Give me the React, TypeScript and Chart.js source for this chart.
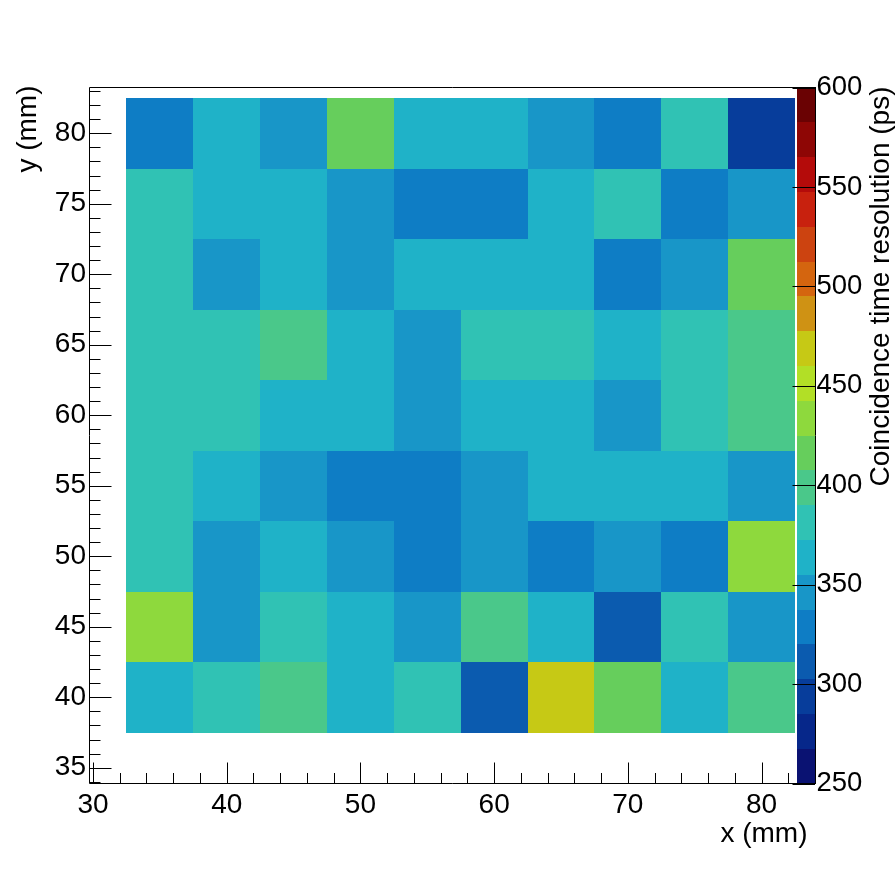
import React, { useEffect, useRef } from "react";
import { Chart, registerables } from "chart.js";

Chart.register(...registerables);

// ---- data ----
const xBinCenters = [35, 40, 45, 50, 55, 60, 65, 70, 75, 80];
const yBinCenters = [40, 45, 50, 55, 60, 65, 70, 75, 80];
const binHalfWidth = 2.5;

// coincidence time resolution (ps), one array per row (y = 40 ... 80 mm)
const resY40 = [364, 381, 399, 364, 381, 311, 469, 416, 364, 399];
const resY45 = [434, 346, 381, 364, 346, 399, 364, 311, 381, 346];
const resY50 = [381, 346, 364, 346, 329, 346, 329, 346, 329, 434];
const resY55 = [381, 364, 346, 329, 329, 346, 364, 364, 364, 346];
const resY60 = [381, 381, 364, 364, 346, 364, 364, 346, 381, 399];
const resY65 = [381, 381, 399, 364, 346, 381, 381, 364, 381, 399];
const resY70 = [381, 346, 364, 346, 364, 364, 364, 329, 346, 416];
const resY75 = [381, 364, 364, 346, 329, 329, 364, 381, 329, 346];
const resY80 = [329, 364, 346, 416, 364, 364, 346, 329, 381, 294];

const xTicks = [30, 40, 50, 60, 70, 80];
const yTicks = [35, 40, 45, 50, 55, 60, 65, 70, 75, 80];
const zTicks = [250, 300, 350, 400, 450, 500, 550, 600];

const xMinorTicks = [30, 32, 34, 36, 38, 40, 42, 44, 46, 48, 50, 52, 54, 56, 58, 60, 62, 64, 66, 68, 70, 72, 74, 76, 78, 80, 82];
const yMinorTicks = [34, 35, 36, 37, 38, 39, 40, 41, 42, 43, 44, 45, 46, 47, 48, 49, 50, 51, 52, 53, 54, 55, 56, 57, 58, 59, 60, 61, 62, 63, 64, 65, 66, 67, 68, 69, 70, 71, 72, 73, 74, 75, 76, 77, 78, 79, 80, 81, 82, 83];

const xRange = [29.738, 82.65];
const yRange = [33.883, 83.245];
const zRange = [250, 600];

const paletteColors = [
  "#0a1272", "#06278a", "#073d9b", "#0b5baf", "#0e7dc5",
  "#1896c8", "#1fb2c8", "#30c2b4", "#4ac88a", "#66ce5c",
  "#8ed93d", "#b2df26", "#c6c915", "#cf9214", "#d4650f",
  "#cc4310", "#c8210e", "#b40b0a", "#8e0605", "#6a0203",
];

const xTitle = "x (mm)";
const yTitle = "y (mm)";
const zTitle = "Coincidence time resolution (ps)";

const FONT = '"Liberation Sans", Arial, Helvetica, sans-serif';

const rows = [resY40, resY45, resY50, resY55, resY60, resY65, resY70, resY75, resY80];
const cells = rows.flatMap((row, j) =>
  row.map((v, i) => ({ x: xBinCenters[i], y: yBinCenters[j], v }))
);

function colorFor(v: number) {
  const n = paletteColors.length;
  let k = Math.floor(((v - zRange[0]) / (zRange[1] - zRange[0])) * n);
  k = Math.max(0, Math.min(n - 1, k));
  return paletteColors[k];
}

const heatPlugin = {
  id: "heat",
  beforeDatasetsDraw(chart: any) {
    const { ctx } = chart;
    const x = chart.scales.x;
    const y = chart.scales.y;
    const data = chart.data.datasets[0].data as any[];
    ctx.save();
    for (const p of data) {
      const l = Math.round(x.getPixelForValue(p.x - binHalfWidth));
      const r = Math.round(x.getPixelForValue(p.x + binHalfWidth));
      const t = Math.round(y.getPixelForValue(p.y + binHalfWidth));
      const b = Math.round(y.getPixelForValue(p.y - binHalfWidth));
      ctx.fillStyle = colorFor(p.v);
      ctx.fillRect(l, t, r - l, b - t);
    }
    ctx.restore();
  },
  afterDraw(chart: any) {
    const { ctx, chartArea } = chart;
    const x = chart.scales.x;
    const y = chart.scales.y;
    const z = chart.scales.z;
    const L = chartArea.left;
    const R = chartArea.right;
    const T = chartArea.top;
    const B = chartArea.bottom;
    const barL = R;
    const barR = R + 18;

    ctx.save();
    // colour bar
    const n = paletteColors.length;
    const step = (zRange[1] - zRange[0]) / n;
    for (let i = 0; i < n; i++) {
      const lo = zRange[0] + i * step;
      const yb = Math.round(z.getPixelForValue(lo));
      const yt = Math.round(z.getPixelForValue(lo + step));
      ctx.fillStyle = paletteColors[i];
      ctx.fillRect(barL, yt, barR - barL, yb - yt);
    }

    ctx.strokeStyle = "#000";
    ctx.lineWidth = 1;
    ctx.beginPath();
    // frame
    ctx.moveTo(L, T); ctx.lineTo(barR + 1, T);
    ctx.moveTo(L, T); ctx.lineTo(L, B);
    ctx.moveTo(L, B); ctx.lineTo(barR + 1, B);
    ctx.moveTo(barR + 0.5, T); ctx.lineTo(barR + 0.5, B);

    // x ticks
    for (const v of xMinorTicks) {
      if (v < xRange[0] || v > xRange[1]) continue;
      const px = Math.round(x.getPixelForValue(v)) + 0.5;
      const len = xTicks.includes(v) ? 21 : 10.5;
      ctx.moveTo(px, B); ctx.lineTo(px, B - len);
    }
    // y ticks
    for (const v of yMinorTicks) {
      if (v < yRange[0] || v > yRange[1]) continue;
      const py = Math.round(y.getPixelForValue(v)) + 0.5;
      const len = yTicks.includes(v) ? 22 : 11;
      ctx.moveTo(L, py); ctx.lineTo(L + len, py);
    }
    // z ticks
    for (const v of zTicks) {
      const py = Math.round(z.getPixelForValue(v)) + 0.5;
      ctx.moveTo(barR, py); ctx.lineTo(barR - 22.5, py);
    }
    ctx.stroke();

    // titles
    ctx.fillStyle = "#000";
    ctx.font = `28px ${FONT}`;
    ctx.textBaseline = "alphabetic";
    ctx.textAlign = "right";
    ctx.fillText(xTitle, 807.5, 842);

    ctx.save();
    ctx.translate(36, 85.5);
    ctx.rotate(-Math.PI / 2);
    ctx.textAlign = "right";
    ctx.fillText(yTitle, 0, 0);
    ctx.restore();

    ctx.save();
    ctx.translate(889, 86.5);
    ctx.rotate(-Math.PI / 2);
    ctx.textAlign = "right";
    ctx.fillText(zTitle, 0, 0);
    ctx.restore();

    ctx.restore();
  },
};

export default function App() {
  const ref = useRef<HTMLCanvasElement | null>(null);

  useEffect(() => {
    if (!ref.current) return;
    const chart = new Chart(ref.current, {
      type: "scatter",
      data: {
        datasets: [
          {
            data: cells as any,
            pointRadius: 0,
            pointHoverRadius: 0,
            showLine: false,
          },
        ],
      },
      options: {
        animation: false,
        responsive: false,
        devicePixelRatio: 1,
        events: [],
        layout: { padding: { top: 87.5, left: 0, right: 0, bottom: 0 } },
        plugins: {
          legend: { display: false },
          tooltip: { enabled: false },
          title: { display: false },
        },
        scales: {
          x: {
            type: "linear",
            position: "bottom",
            min: xRange[0],
            max: xRange[1],
            grid: { display: false, drawTicks: false },
            border: { display: false },
            afterBuildTicks: (s: any) => {
              s.ticks = xTicks.map((v) => ({ value: v }));
            },
            afterFit: (s: any) => {
              s.height = 88.5;
            },
            ticks: {
              autoSkip: false,
              maxRotation: 0,
              minRotation: 0,
              padding: 4.5,
              color: "#000",
              font: { family: FONT, size: 28 },
              callback: (v: any) => String(v),
            },
          },
          y: {
            type: "linear",
            position: "left",
            min: yRange[0],
            max: yRange[1],
            grid: { display: false, drawTicks: false },
            border: { display: false },
            afterBuildTicks: (s: any) => {
              s.ticks = yTicks.map((v) => ({ value: v }));
            },
            afterFit: (s: any) => {
              s.width = 89.5;
            },
            ticks: {
              autoSkip: false,
              padding: 3.5,
              color: "#000",
              font: { family: FONT, size: 28 },
              callback: (v: any) => String(v),
            },
          },
          z: {
            type: "linear",
            axis: "y",
            position: "right",
            min: zRange[0],
            max: zRange[1],
            grid: { display: false, drawTicks: false },
            border: { display: false },
            afterBuildTicks: (s: any) => {
              s.ticks = zTicks.map((v) => ({ value: v }));
            },
            afterFit: (s: any) => {
              s.width = 99;
            },
            ticks: {
              autoSkip: false,
              padding: 19.5,
              color: "#000",
              font: { family: FONT, size: 27.5 },
              callback: (v: any) => String(v),
            },
          },
        },
      } as any,
      plugins: [heatPlugin],
    });
    return () => chart.destroy();
  }, []);

  return (
    <div style={{ position: "fixed", left: 0, top: 0, width: 896, height: 872, background: "#fff" }}>
      <canvas ref={ref} width={896} height={872} style={{ display: "block", width: 896, height: 872 }} />
    </div>
  );
}
